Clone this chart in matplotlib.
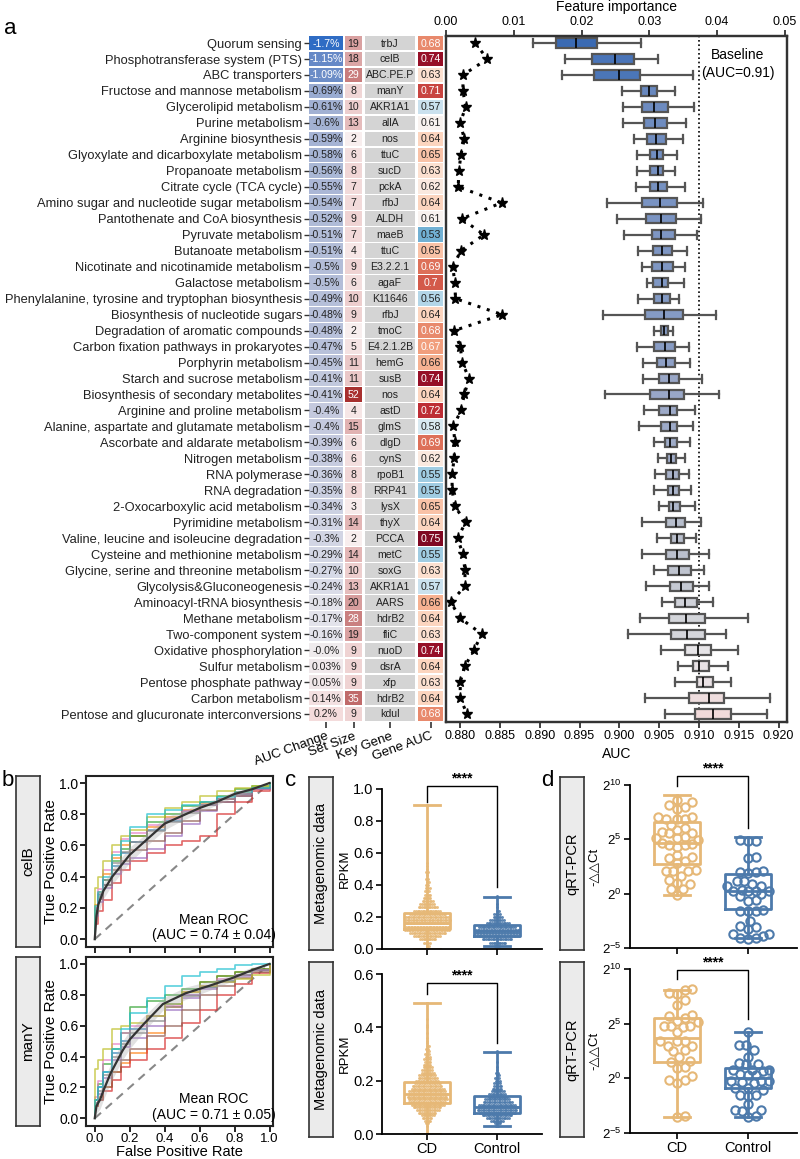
import numpy as np
import matplotlib
matplotlib.use('Agg')
import matplotlib.pyplot as plt
from matplotlib.colors import LinearSegmentedColormap, TwoSlopeNorm, Normalize
from matplotlib.patches import Rectangle
from matplotlib.ticker import FixedLocator, NullLocator

plt.rcParams['font.family'] = ['Liberation Sans', 'DejaVu Sans']
plt.rcParams['mathtext.fontset'] = 'custom'
plt.rcParams['mathtext.rm'] = 'Liberation Sans'
plt.rcParams['mathtext.it'] = 'Liberation Sans:italic'

# ---------------- DATA : panel a ----------------
pathways = [
    "Quorum sensing", "Phosphotransferase system (PTS)", "ABC transporters",
    "Fructose and mannose metabolism", "Glycerolipid metabolism", "Purine metabolism",
    "Arginine biosynthesis", "Glyoxylate and dicarboxylate metabolism", "Propanoate metabolism",
    "Citrate cycle (TCA cycle)", "Amino sugar and nucleotide sugar metabolism",
    "Pantothenate and CoA biosynthesis", "Pyruvate metabolism", "Butanoate metabolism",
    "Nicotinate and nicotinamide metabolism", "Galactose metabolism",
    "Phenylalanine, tyrosine and tryptophan biosynthesis", "Biosynthesis of nucleotide sugars",
    "Degradation of aromatic compounds", "Carbon fixation pathways in prokaryotes",
    "Porphyrin metabolism", "Starch and sucrose metabolism", "Biosynthesis of secondary metabolites",
    "Arginine and proline metabolism", "Alanine, aspartate and glutamate metabolism",
    "Ascorbate and aldarate metabolism", "Nitrogen metabolism", "RNA polymerase", "RNA degradation",
    "2-Oxocarboxylic acid metabolism", "Pyrimidine metabolism",
    "Valine, leucine and isoleucine degradation", "Cysteine and methionine metabolism",
    "Glycine, serine and threonine metabolism", "Glycolysis&Gluconeogenesis",
    "Aminoacyl-tRNA biosynthesis", "Methane metabolism", "Two-component system",
    "Oxidative phosphorylation", "Sulfur metabolism", "Pentose phosphate pathway",
    "Carbon metabolism", "Pentose and glucuronate interconversions"]
auc_change = [-1.7, -1.15, -1.09, -0.69, -0.61, -0.6, -0.59, -0.58, -0.56, -0.55,
              -0.54, -0.52, -0.51, -0.51, -0.5, -0.5, -0.49, -0.48, -0.48, -0.47,
              -0.45, -0.41, -0.41, -0.4, -0.4, -0.39, -0.38, -0.36, -0.35, -0.34,
              -0.31, -0.3, -0.29, -0.27, -0.24, -0.18, -0.17, -0.16, -0.0, 0.03,
              0.05, 0.14, 0.2]
set_size = [19, 18, 29, 8, 10, 13, 2, 6, 8, 7, 7, 9, 7, 4, 9, 6, 10, 9, 2, 5,
            11, 11, 52, 4, 15, 6, 6, 8, 8, 3, 14, 2, 14, 10, 13, 20, 28, 19, 9, 9,
            9, 35, 9]
key_gene = ["trbJ", "celB", "ABC.PE.P", "manY", "AKR1A1", "allA", "nos", "ttuC", "sucD", "pckA",
            "rfbJ", "ALDH", "maeB", "ttuC", "E3.2.2.1", "agaF", "K11646", "rfbJ", "tmoC", "E4.2.1.2B",
            "hemG", "susB", "nos", "astD", "glmS", "dlgD", "cynS", "rpoB1", "RRP41", "lysX",
            "thyX", "PCCA", "metC", "soxG", "AKR1A1", "AARS", "hdrB2", "fliC", "nuoD", "dsrA",
            "xfp", "hdrB2", "kdul"]
gene_auc = [0.68, 0.74, 0.63, 0.71, 0.57, 0.61, 0.64, 0.65, 0.63, 0.62,
            0.64, 0.61, 0.53, 0.65, 0.69, 0.7, 0.56, 0.64, 0.68, 0.67,
            0.66, 0.74, 0.64, 0.72, 0.58, 0.69, 0.62, 0.55, 0.55, 0.65,
            0.64, 0.75, 0.55, 0.63, 0.57, 0.66, 0.64, 0.63, 0.74, 0.64,
            0.63, 0.64, 0.68]
feat_importance = [0.0043, 0.0061, 0.0025, 0.0025, 0.0029, 0.0021, 0.0027, 0.0022, 0.0019, 0.0018,
                   0.0082, 0.0023, 0.0056, 0.0022, 0.0010, 0.0013, 0.0014, 0.0083, 0.0012, 0.0021,
                   0.0024, 0.0034, 0.0027, 0.0022, 0.0011, 0.0013, 0.0012, 0.0009, 0.0009, 0.0013,
                   0.0029, 0.0017, 0.0025, 0.0028, 0.0028, 0.0007, 0.0021, 0.0053, 0.0041, 0.0028,
                   0.0021, 0.0021, 0.0031]
auc_whislo = [0.8892, 0.8932, 0.8928, 0.9003, 0.9005, 0.9005, 0.9018, 0.9022, 0.9022, 0.9021,
              0.8984, 0.8997, 0.9006, 0.9024, 0.9029, 0.9035, 0.9023, 0.8979, 0.9044, 0.9022,
              0.9030, 0.9030, 0.8982, 0.9031, 0.9025, 0.9043, 0.9048, 0.9045, 0.9043, 0.9050,
              0.9028, 0.9047, 0.9028, 0.9044, 0.9034, 0.9054, 0.9026, 0.9011, 0.9052, 0.9074,
              0.9070, 0.9032, 0.9057]
auc_q1 = [0.8921, 0.8966, 0.8968, 0.9027, 0.9028, 0.9031, 0.9035, 0.9039, 0.9038, 0.9039,
          0.9029, 0.9034, 0.9041, 0.9042, 0.9041, 0.9042, 0.9044, 0.9032, 0.9052, 0.9044,
          0.9047, 0.9050, 0.9039, 0.9050, 0.9052, 0.9057, 0.9060, 0.9059, 0.9061, 0.9062,
          0.9059, 0.9065, 0.9059, 0.9061, 0.9063, 0.9070, 0.9062, 0.9065, 0.9082, 0.9092,
          0.9097, 0.9088, 0.9095]
auc_med = [0.8945, 0.8995, 0.9000, 0.9037, 0.9044, 0.9045, 0.9046, 0.9047, 0.9049, 0.9049,
           0.9051, 0.9052, 0.9052, 0.9054, 0.9054, 0.9054, 0.9054, 0.9056, 0.9056, 0.9057,
           0.9059, 0.9062, 0.9062, 0.9063, 0.9064, 0.9064, 0.9065, 0.9067, 0.9067, 0.9068,
           0.9071, 0.9072, 0.9073, 0.9075, 0.9078, 0.9083, 0.9084, 0.9085, 0.9099, 0.9100,
           0.9105, 0.9112, 0.9118]
auc_q3 = [0.8972, 0.9018, 0.9026, 0.9047, 0.9061, 0.9060, 0.9058, 0.9055, 0.9055, 0.9060,
          0.9073, 0.9071, 0.9070, 0.9066, 0.9068, 0.9061, 0.9064, 0.9080, 0.9061, 0.9070,
          0.9070, 0.9075, 0.9081, 0.9072, 0.9073, 0.9072, 0.9071, 0.9075, 0.9075, 0.9076,
          0.9082, 0.9081, 0.9088, 0.9090, 0.9093, 0.9097, 0.9108, 0.9108, 0.9115, 0.9112,
          0.9118, 0.9132, 0.9140]
auc_whishi = [0.9027, 0.9049, 0.9092, 0.9070, 0.9094, 0.9084, 0.9080, 0.9072, 0.9070, 0.9083,
              0.9105, 0.9102, 0.9098, 0.9085, 0.9083, 0.9081, 0.9075, 0.9121, 0.9068, 0.9088,
              0.9089, 0.9104, 0.9125, 0.9095, 0.9092, 0.9089, 0.9082, 0.9088, 0.9090, 0.9095,
              0.9103, 0.9096, 0.9112, 0.9106, 0.9113, 0.9118, 0.9161, 0.9134, 0.9149, 0.9137,
              0.9140, 0.9189, 0.9186]
baseline_auc = 0.910
table_cols = ["AUC Change", "Set Size", "Key Gene", "Gene AUC"]

# ---------------- DATA : panel b (ROC) ----------------
fpr_grid = [0, 0.02, 0.05, 0.1, 0.15, 0.2, 0.3, 0.4, 0.5, 0.6, 0.7, 0.8, 0.9, 1.0]
celB_folds = [
    [0.20, 0.28, 0.35, 0.47, 0.55, 0.62, 0.70, 0.76, 0.82, 0.86, 0.90, 0.93, 0.96, 1.0],
    [0.22, 0.30, 0.42, 0.52, 0.60, 0.66, 0.72, 0.78, 0.83, 0.87, 0.90, 0.94, 0.97, 1.0],
    [0.18, 0.27, 0.38, 0.50, 0.58, 0.66, 0.75, 0.80, 0.85, 0.88, 0.92, 0.96, 0.98, 1.0],
    [0.10, 0.18, 0.25, 0.36, 0.44, 0.50, 0.55, 0.60, 0.63, 0.66, 0.80, 0.88, 0.95, 1.0],
    [0.15, 0.24, 0.33, 0.42, 0.48, 0.52, 0.58, 0.66, 0.74, 0.82, 0.88, 0.92, 0.96, 1.0],
    [0.17, 0.26, 0.35, 0.44, 0.50, 0.57, 0.63, 0.68, 0.76, 0.83, 0.88, 0.92, 0.96, 1.0],
    [0.20, 0.32, 0.44, 0.56, 0.64, 0.68, 0.73, 0.77, 0.82, 0.86, 0.90, 0.93, 0.96, 1.0],
    [0.19, 0.29, 0.38, 0.49, 0.56, 0.62, 0.69, 0.75, 0.81, 0.86, 0.90, 0.93, 0.97, 1.0],
    [0.33, 0.40, 0.50, 0.60, 0.66, 0.70, 0.78, 0.84, 0.88, 0.92, 0.95, 0.97, 0.98, 1.0],
    [0.21, 0.30, 0.40, 0.54, 0.63, 0.72, 0.80, 0.83, 0.86, 0.88, 0.91, 0.94, 0.97, 1.0]]
manY_folds = [
    [0.12, 0.20, 0.30, 0.42, 0.50, 0.58, 0.66, 0.74, 0.80, 0.85, 0.89, 0.93, 0.96, 1.0],
    [0.08, 0.14, 0.20, 0.30, 0.36, 0.42, 0.55, 0.72, 0.82, 0.88, 0.92, 0.95, 0.97, 1.0],
    [0.12, 0.22, 0.35, 0.45, 0.55, 0.72, 0.76, 0.80, 0.84, 0.88, 0.92, 0.95, 0.97, 1.0],
    [0.08, 0.12, 0.18, 0.25, 0.33, 0.38, 0.45, 0.52, 0.62, 0.70, 0.80, 0.87, 0.94, 1.0],
    [0.10, 0.16, 0.26, 0.38, 0.46, 0.52, 0.60, 0.70, 0.78, 0.84, 0.88, 0.92, 0.96, 1.0],
    [0.08, 0.12, 0.20, 0.30, 0.38, 0.45, 0.53, 0.60, 0.70, 0.80, 0.86, 0.91, 0.95, 1.0],
    [0.14, 0.24, 0.38, 0.48, 0.55, 0.60, 0.66, 0.73, 0.80, 0.86, 0.90, 0.93, 0.96, 1.0],
    [0.10, 0.18, 0.28, 0.40, 0.48, 0.55, 0.63, 0.72, 0.79, 0.85, 0.89, 0.93, 0.96, 1.0],
    [0.32, 0.38, 0.45, 0.58, 0.60, 0.62, 0.66, 0.74, 0.82, 0.86, 0.88, 0.90, 0.93, 1.0],
    [0.12, 0.20, 0.30, 0.45, 0.58, 0.68, 0.78, 0.86, 0.92, 0.95, 0.97, 0.99, 1.0, 1.0]]
celB_mean_fpr = [0, 0.01, 0.02, 0.05, 0.1, 0.15, 0.2, 0.3, 0.4, 0.5, 0.6, 0.7, 0.8, 0.9, 1.0]
celB_mean_tpr = [0, 0.15, 0.22, 0.31, 0.40, 0.47, 0.54, 0.64, 0.74, 0.79, 0.84, 0.88, 0.93, 0.96, 1.0]
celB_std = [0, 0.06, 0.06, 0.05, 0.05, 0.05, 0.05, 0.04, 0.04, 0.03, 0.03, 0.02, 0.02, 0.01, 0]
manY_mean_fpr = [0, 0.01, 0.03, 0.05, 0.09, 0.16, 0.2, 0.28, 0.39, 0.52, 0.66, 0.79, 0.9, 1.0]
manY_mean_tpr = [0, 0.08, 0.12, 0.18, 0.29, 0.44, 0.51, 0.61, 0.74, 0.81, 0.86, 0.91, 0.96, 1.0]
manY_std = [0, 0.05, 0.06, 0.06, 0.06, 0.06, 0.06, 0.05, 0.04, 0.04, 0.03, 0.02, 0.02, 0]
roc_genes = ["celB", "manY"]
roc_text = ["Mean ROC\n(AUC = 0.74 ± 0.04)", "Mean ROC\n(AUC = 0.71 ± 0.05)"]

# ---------------- DATA : panel c (RPKM, binned counts) ----------------
groups = ["CD", "Control"]
c1_cd_vals = [0.00, 0.02, 0.04, 0.06, 0.08, 0.10, 0.12, 0.14, 0.16, 0.18, 0.20, 0.22, 0.24, 0.26,
              0.28, 0.30, 0.32, 0.34, 0.36, 0.38, 0.40, 0.42, 0.44, 0.46, 0.48, 0.50, 0.52, 0.54, 0.90]
c1_cd_counts = [1, 2, 4, 10, 16, 22, 28, 30, 30, 28, 26, 22, 16, 12, 9, 7, 5, 4, 3, 3,
                2, 2, 2, 1, 2, 1, 1, 1, 1]
c1_ct_vals = [0.02, 0.04, 0.06, 0.08, 0.10, 0.12, 0.14, 0.16, 0.18, 0.20, 0.22, 0.24, 0.26, 0.28, 0.33]
c1_ct_counts = [3, 10, 18, 26, 30, 28, 22, 14, 9, 6, 4, 2, 1, 1, 1]
c2_cd_vals = [0.00, 0.03, 0.04, 0.05, 0.06, 0.07, 0.08, 0.09, 0.10, 0.11, 0.12, 0.13, 0.14, 0.15,
              0.16, 0.17, 0.18, 0.19, 0.20, 0.21, 0.22, 0.23, 0.24, 0.25, 0.26, 0.27, 0.28, 0.29,
              0.30, 0.31, 0.32, 0.33, 0.34, 0.35, 0.36, 0.38, 0.40, 0.41, 0.43, 0.49]
c2_cd_counts = [1, 1, 2, 4, 6, 8, 11, 14, 17, 20, 22, 24, 24, 24, 22, 20, 18, 16, 14, 12,
                10, 8, 7, 6, 5, 4, 4, 3, 3, 2, 2, 2, 1, 1, 1, 1, 1, 1, 1, 1]
c2_ct_vals = [0.03, 0.04, 0.05, 0.06, 0.07, 0.08, 0.09, 0.10, 0.11, 0.12, 0.13, 0.14, 0.15, 0.16,
              0.17, 0.18, 0.19, 0.20, 0.21, 0.22, 0.23, 0.24, 0.25, 0.27, 0.31]
c2_ct_counts = [2, 4, 8, 14, 18, 22, 24, 24, 22, 18, 15, 12, 10, 8, 6, 5, 4, 3, 3, 2, 2, 1, 1, 1, 1]
# box stats: whislo, q1, med, q3, whishi
c1_cd_box = [0.0, 0.123, 0.16, 0.227, 0.90]
c1_ct_box = [0.02, 0.081, 0.11, 0.15, 0.327]
c2_cd_box = [0.0, 0.115, 0.15, 0.196, 0.492]
c2_ct_box = [0.03, 0.078, 0.10, 0.1425, 0.309]

# ---------------- DATA : panel d (log2 of 2^-ddCt) ----------------
d1_cd = [8.64, 8.43, 8.18, 7.97, 7.82, 6.91, 6.91, 6.91, 7.06, 7.06, 6.36, 5.85, 5.7, 5.55, 6.0,
         5.55, 5.09, 4.94, 5.09, 5.24, 4.64, 4.48, 4.33, 4.55, 4.48, 3.42, 3.58, 3.27, 2.82, 2.97,
         2.21, 2.12, 2.06, 2.06, 1.61, 1.30, 1.0, 0.85, 0.39, 0.39, -0.12]
d1_ct = [4.94, 4.85, 4.85, 3.36, 3.27, 2.0, 2.06, 2.0, 1.91, 1.21, 1.15, 0.91, 0.70, 0.70, 0.24,
         0.24, 0.30, 0.24, 0.24, -0.06, -0.21, -0.61, -0.67, -1.58, -1.64, -1.52, -1.64, -2.55,
         -2.94, -3.09, -3.24, -3.70, -3.85, -3.70, -4.15, -4.06, -4.06]
d2_cd = [8.125, 8.07, 7.77, 7.71, 7.17, 6.73, 5.68, 5.75, 5.54, 5.15, 5.24, 4.75, 4.79, 4.73, 4.79,
         4.20, 3.45, 3.45, 3.45, 3.0, 3.0, 2.47, 2.56, 1.96, 1.57, 1.51, 1.07, 0.92, 0.18, -0.12,
         -0.12, -0.42, -3.48, -3.54]
d2_ct = [4.26, 2.56, 3.07, 3.01, 1.96, 1.28, 1.37, 1.28, 0.77, 0.68, 0.77, 0.77, 0.33, 0.39, 0.27,
         -0.27, -0.42, -0.33, -0.27, -0.27, -0.89, -1.04, -0.89, -1.49, -1.49, -1.64, -2.38, -2.91,
         -2.91, -3.51, -3.42, -2.98]
d1_cd_box = [-0.1, 2.7, 4.7, 6.6, 9.1]
d1_ct_box = [-4.1, -1.4, 0.25, 1.8, 5.2]
d2_cd_box = [-3.54, 1.52, 3.66, 5.54, 8.1]
d2_ct_box = [-3.5, -0.86, 0.0, 0.98, 4.25]

# ---------------- STYLE ----------------
CD_COL = '#e6b877'
CT_COL = '#4d7aab'
W, H = 800, 1159
fig = plt.figure(figsize=(W / 100, H / 100), dpi=100)


def axpx(x0, y0, x1, y1, **kw):
    return fig.add_axes([x0 / W, 1 - y1 / H, (x1 - x0) / W, (y1 - y0) / H], **kw)


def anchored_cmap(vals, cols):
    v = np.array(vals, float)
    pos = (v - v.min()) / (v.max() - v.min())
    return LinearSegmentedColormap.from_list('c', list(zip(pos, cols))), Normalize(v.min(), v.max())


heat_cmap, heat_norm = anchored_cmap([-1.7, -1.1, -0.6, -0.4, -0.2, 0.0, 0.2],
                                     ['#2f6cc4', '#6b8cc7', '#a3b2d3', '#c3c9de', '#e0e1ea', '#efebee', '#f4dcdc'])
box_cmap, box_norm = anchored_cmap([-1.7, -1.1, -0.6, -0.5, -0.4, -0.3, -0.15, 0.0, 0.2],
                                   ['#3a6ab3', '#4a75b8', '#6e8cc0', '#7f97c3', '#9ca9c8', '#b9bfcc',
                                    '#d6d7dc', '#e6e4e7', '#f1dada'])
size_cmap, size_norm = anchored_cmap([2, 6, 9, 11, 14, 19, 29, 35, 52],
                                     ['#f8eeee', '#f3dede', '#efd2d2', '#eac8c8', '#e3b6b6', '#d9a1a1',
                                      '#c97d7d', '#c06a6a', '#a8302f'])
gauc_cmap = plt.get_cmap('RdBu_r')
gauc_norm = TwoSlopeNorm(vmin=0.45, vcenter=0.605, vmax=0.76)

n = len(pathways)
rows = np.arange(n)
YLIM = (n - 0.5, -0.44)

# ================= panel a : table =================
axt = axpx(309, 36, 443, 722)
axt.set_xlim(309, 443)
axt.set_ylim(*YLIM)
col_bounds = [(309, 343), (345, 362), (365, 415), (418, 443)]
for i in range(n):
    cells = [
        (heat_cmap(heat_norm(auc_change[i])), f"{auc_change[i]}%", auc_change[i] <= -1.0),
        (size_cmap(size_norm(set_size[i])), str(set_size[i]), set_size[i] >= 28),
        ('#d4d4d4', key_gene[i], False),
        (gauc_cmap(gauc_norm(gene_auc[i])), str(gene_auc[i]), gene_auc[i] >= 0.67),
    ]
    for (x0, x1), (fc, txt, white) in zip(col_bounds, cells):
        axt.add_patch(Rectangle((x0, i - 0.46), x1 - x0, 0.92, facecolor=fc, edgecolor='none'))
        axt.text((x0 + x1) / 2, i + 0.03, txt, ha='center', va='center', fontsize=7.6,
                 color='white' if white else '#222222')
for s in axt.spines.values():
    s.set_visible(False)
axt.set_yticks(rows)
axt.set_yticklabels(pathways, fontsize=9.3, color='#222222')
axt.tick_params(axis='y', length=3.5, pad=1.5, width=1, color='#333333')
axt.set_xticks([(a + b) / 2 for a, b in col_bounds])
axt.set_xticklabels(table_cols, rotation=20, ha='right', rotation_mode='anchor', fontsize=9.5)
axt.tick_params(axis='x', length=4, pad=2, width=1.2, color='#333333')

# ================= panel a : box plot =================
ax = axpx(446, 36, 787, 722)
stats = [dict(med=auc_med[i], q1=auc_q1[i], q3=auc_q3[i], whislo=auc_whislo[i],
              whishi=auc_whishi[i], fliers=[]) for i in range(n)]
bp = ax.bxp(stats, positions=rows, orientation='horizontal', widths=0.58, patch_artist=True,
            showfliers=False, capwidths=0.5,
            boxprops=dict(edgecolor='#555555', linewidth=1.6),
            whiskerprops=dict(color='#555555', linewidth=1.6),
            capprops=dict(color='#555555', linewidth=1.6),
            medianprops=dict(color='black', linewidth=1.2))
for patch, v in zip(bp['boxes'], auc_change):
    patch.set_facecolor(box_cmap(box_norm(v)))
ax.axvline(baseline_auc, color='black', lw=1.2, ls=(0, (1, 1.6)), zorder=0.5)
ax.set_xlim(0.87824, 0.92105)
ax.set_ylim(*YLIM)
ax.set_yticks([])
ax.set_xticks(np.round(np.arange(0.880, 0.9201, 0.005), 3))
ax.set_xticklabels([f"{t:.3f}" for t in np.arange(0.880, 0.9201, 0.005)], fontsize=9)
ax.set_xlabel('AUC', fontsize=10, labelpad=3)
ax.tick_params(axis='x', length=4, width=1.3, pad=2, color='#333333')
for s in ax.spines.values():
    s.set_linewidth(1.6)
    s.set_color('#333333')
ax.text(0.9149, 1.3, 'Baseline\n(AUC=0.91)', ha='center', va='center', fontsize=10,
        linespacing=1.35)

ax2 = ax.twiny()
ax2.plot(feat_importance, rows, color='black', ls=(0, (1, 2.2)), lw=2.2,
         marker='*', ms=8, mec='black', mfc='black')
ax2.set_xlim(0, 0.0503)
ax2.set_ylim(*YLIM)
ax2.set_xticks([0, 0.01, 0.02, 0.03, 0.04, 0.05])
ax2.set_xticklabels(['0.00', '0.01', '0.02', '0.03', '0.04', '0.05'], fontsize=9)
ax2.tick_params(axis='x', length=4, width=1.3, pad=2, color='#333333')
ax2.set_xlabel('Feature importance', fontsize=10, labelpad=3)
for s in ax2.spines.values():
    s.set_linewidth(1.6)
    s.set_color('#333333')

fig.text(10 / W, 1 - 28 / H, 'a', fontsize=16, ha='center', va='center')


# ================= helpers =================
def strip(x0, y0, x1, y1, label, fs=10.5):
    a = axpx(x0, y0, x1, y1)
    a.set_facecolor('#ebebeb')
    a.set_xticks([])
    a.set_yticks([])
    for s in a.spines.values():
        s.set_linewidth(1.2)
        s.set_color('#333333')
    a.text(0.5, 0.5, label, rotation=90, ha='center', va='center', fontsize=fs,
           transform=a.transAxes)
    return a


def box_stats(b):
    return dict(whislo=b[0], q1=b[1], med=b[2], q3=b[3], whishi=b[4], fliers=[])


def swarm(y_px, diam, max_half):
    y_px = np.asarray(y_px, float)
    order = np.argsort(y_px)
    offs = np.zeros(len(y_px))
    step = diam / 4.0
    cands = [0.0]
    k = 1
    while k * step <= max_half:
        cands += [k * step, -k * step]
        k += 1
    placed = []
    for i in order:
        best, bestc, bestd = None, 0.0, -1
        for c in cands:
            if placed:
                dmin = min(np.hypot(c - offs[j], y_px[i] - y_px[j]) for j in placed)
            else:
                dmin = 1e9
            if dmin >= diam:
                best = c
                break
            if dmin > bestd:
                bestd, bestc = dmin, c
        offs[i] = best if best is not None else bestc
        placed.append(i)
    return offs


# ================= panel b : ROC =================
fig.text(8 / W, 1 - 780 / H, 'b', fontsize=16, ha='center', va='center')
tab = plt.get_cmap('tab10').colors
roc_sets = [(celB_folds, celB_mean_fpr, celB_mean_tpr, celB_std),
            (manY_folds, manY_mean_fpr, manY_mean_tpr, manY_std)]
roc_boxes = [(776, 947), (957, 1126)]
for k, ((folds, mf, mt, sd), (y0, y1)) in enumerate(zip(roc_sets, roc_boxes)):
    strip(16, y0, 40, y1, roc_genes[k], fs=11)
    axr = axpx(86, y0, 273, y1)
    axr.plot([0, 1], [0, 1], color='#888888', lw=1.5, ls=(0, (4, 3)), zorder=1)
    for f, col in zip(folds, tab):
        axr.plot([0] + fpr_grid, [0] + f, drawstyle='steps-post', color=col, lw=1.2, alpha=0.7, zorder=2)
    mt_a, sd_a = np.array(mt), np.array(sd)
    axr.fill_between(mf, np.clip(mt_a - sd_a, 0, 1), np.clip(mt_a + sd_a, 0, 1),
                     color='#aaaaaa', alpha=0.35, lw=0, zorder=3)
    axr.plot(mf, mt, color='#333333', lw=1.6, zorder=4)
    axr.set_xlim(-0.05, 1.02)
    axr.set_ylim(-0.05, 1.045)
    axr.set_xticks([0, 0.2, 0.4, 0.6, 0.8, 1.0])
    axr.set_yticks([0, 0.2, 0.4, 0.6, 0.8, 1.0])
    axr.set_yticklabels(['0.0', '0.2', '0.4', '0.6', '0.8', '1.0'], fontsize=10)
    axr.tick_params(length=4, width=1.2, pad=1.5)
    if k == 0:
        axr.set_xticklabels([])
    else:
        axr.set_xticklabels(['0.0', '0.2', '0.4', '0.6', '0.8', '1.0'], fontsize=9.5)
        axr.tick_params(axis='x', pad=1)
        axr.set_xlabel('False Positive Rate', fontsize=10.5, labelpad=0)
    axr.set_ylabel('True Positive Rate', fontsize=11, labelpad=1)
    for s in axr.spines.values():
        s.set_linewidth(1.5)
        s.set_color('#222222')
    axr.text(0.68, 0.075, roc_text[k], ha='center', va='center', fontsize=10, linespacing=1.15)


# ================= panel c =================
def dense_points(a, vals, counts, center, col, sp=0.024, max_half=0.31):
    xs, ys = [], []
    for r, (v, c) in enumerate(zip(vals, counts)):
        if c == 1:
            offs = np.array([0.0])
        else:
            s = min(sp, 2 * max_half / (c - 1))
            offs = (np.arange(c) - (c - 1) / 2) * s
            if r % 2:
                offs = offs + s / 2
        xs.extend(center + offs)
        ys.extend([v] * c)
    a.plot(xs, ys, ls='none', marker='o', ms=2.1, mew=0, color=col, alpha=0.9, zorder=2)


fig.text(291 / W, 1 - 780 / H, 'c', fontsize=16, ha='center', va='center')
c_sets = [
    ((777, 950), (789, 949), 1.0, [0, 0.2, 0.4, 0.6, 0.8, 1.0], ['0.0', '0.2', '0.4', '0.6', '0.8', '1.0'],
     (c1_cd_vals, c1_cd_counts, c1_cd_box), (c1_ct_vals, c1_ct_counts, c1_ct_box), (0.92, 1.02, 0.39)),
    ((962, 1137), (974, 1134), 0.6, [0, 0.2, 0.4, 0.6], ['0.0', '0.2', '0.4', '0.6'],
     (c2_cd_vals, c2_cd_counts, c2_cd_box), (c2_ct_vals, c2_ct_counts, c2_ct_box), (0.525, 0.565, 0.342)),
]
for k, ((sy0, sy1), (ay0, ay1), ymax, yt, ytl, cd, ct, br) in enumerate(c_sets):
    strip(309, sy0, 333, sy1, 'Metagenomic data', fs=10.5)
    axc = axpx(382, ay0, 542, ay1)
    for j, (grp, col) in enumerate(zip((cd, ct), (CD_COL, CT_COL))):
        dense_points(axc, grp[0], grp[1], j, col)
        axc.bxp([box_stats(grp[2])], positions=[j], widths=0.67, showfliers=False, capwidths=0.38,
                boxprops=dict(color=col, linewidth=2), whiskerprops=dict(color=col, linewidth=2),
                capprops=dict(color=col, linewidth=2), medianprops=dict(color=col, linewidth=2),
                manage_ticks=False)
    axc.plot([0, 0, 1, 1], [br[0], br[1], br[1], br[2]], color='black', lw=1, clip_on=False)
    axc.text(0.5, br[1] + ymax * 0.005, '****', ha='center', va='bottom', fontsize=10, fontweight='bold')
    axc.set_xlim(-0.643, 1.643)
    axc.set_ylim(0, ymax)
    axc.set_yticks(yt)
    axc.set_yticklabels(ytl, fontsize=10.5)
    axc.set_xticks([0, 1])
    axc.set_xticklabels(groups if k == 1 else ['', ''], fontsize=10.5)
    axc.set_ylabel('RPKM', fontsize=9.5, labelpad=2)
    axc.spines['top'].set_visible(False)
    axc.spines['right'].set_visible(False)
    for s in ('left', 'bottom'):
        axc.spines[s].set_linewidth(1.3)
    axc.tick_params(length=4, width=1.2, pad=2)
    axc.patch.set_alpha(0)

# ================= panel d =================
fig.text(547 / W, 1 - 780 / H, 'd', fontsize=16, ha='center', va='center')
d_sets = [
    ((777, 950), (785, 948), (d1_cd, d1_cd_box), (d1_ct, d1_ct_box), (9.9, 10.8, 6.0)),
    ((962, 1137), (969, 1133), (d2_cd, d2_cd_box), (d2_ct, d2_ct_box), (9.1, 9.9, 5.4)),
]
for k, ((sy0, sy1), (ay0, ay1), cd, ct, br) in enumerate(d_sets):
    strip(560, sy0, 584, sy1, 'qRT-PCR', fs=10.5)
    axd = axpx(630, ay0, 797, ay1)
    px_per_unit_y = (ay1 - ay0) / 15.0
    px_per_unit_x = 71.0
    for j, (grp, col) in enumerate(zip((cd, ct), (CD_COL, CT_COL))):
        ex = np.array(grp[0])
        offs = swarm(ex * px_per_unit_y, 7.6, 22.0) / px_per_unit_x
        axd.bxp([box_stats([2.0 ** v for v in grp[1]])], positions=[j], widths=0.66,
                showfliers=False, capwidths=0.38,
                boxprops=dict(color=col, linewidth=2), whiskerprops=dict(color=col, linewidth=2),
                capprops=dict(color=col, linewidth=2), medianprops=dict(color=col, linewidth=2),
                manage_ticks=False)
        axd.plot(j + offs, 2.0 ** ex, ls='none', marker='o', ms=6, mfc='none', mec=col, mew=1.5, zorder=3)
    axd.set_yscale('log', base=2)
    axd.set_ylim(2.0 ** -5, 2.0 ** 10)
    axd.yaxis.set_major_locator(FixedLocator([2.0 ** -5, 1, 2.0 ** 5, 2.0 ** 10]))
    axd.yaxis.set_minor_locator(NullLocator())
    axd.set_yticklabels(['$2^{-5}$', '$2^{0}$', '$2^{5}$', '$2^{10}$'], fontsize=9.5)
    axd.plot([0, 0, 1, 1], [2.0 ** br[0], 2.0 ** br[1], 2.0 ** br[1], 2.0 ** br[2]],
             color='black', lw=1, clip_on=False)
    axd.text(0.5, 2.0 ** (br[1] + 0.05), '****', ha='center', va='bottom', fontsize=10, fontweight='bold')
    axd.set_xlim(-0.662, 1.69)
    axd.set_xticks([0, 1])
    axd.set_xticklabels(groups if k == 1 else ['', ''], fontsize=10.5)
    axd.set_ylabel('-△△Ct', fontsize=9.5, labelpad=2)
    axd.spines['top'].set_visible(False)
    axd.spines['right'].set_visible(False)
    for s in ('left', 'bottom'):
        axd.spines[s].set_linewidth(1.3)
    axd.tick_params(length=4, width=1.2, pad=2)
    axd.patch.set_alpha(0)

fig.savefig('out.png', dpi=100)
